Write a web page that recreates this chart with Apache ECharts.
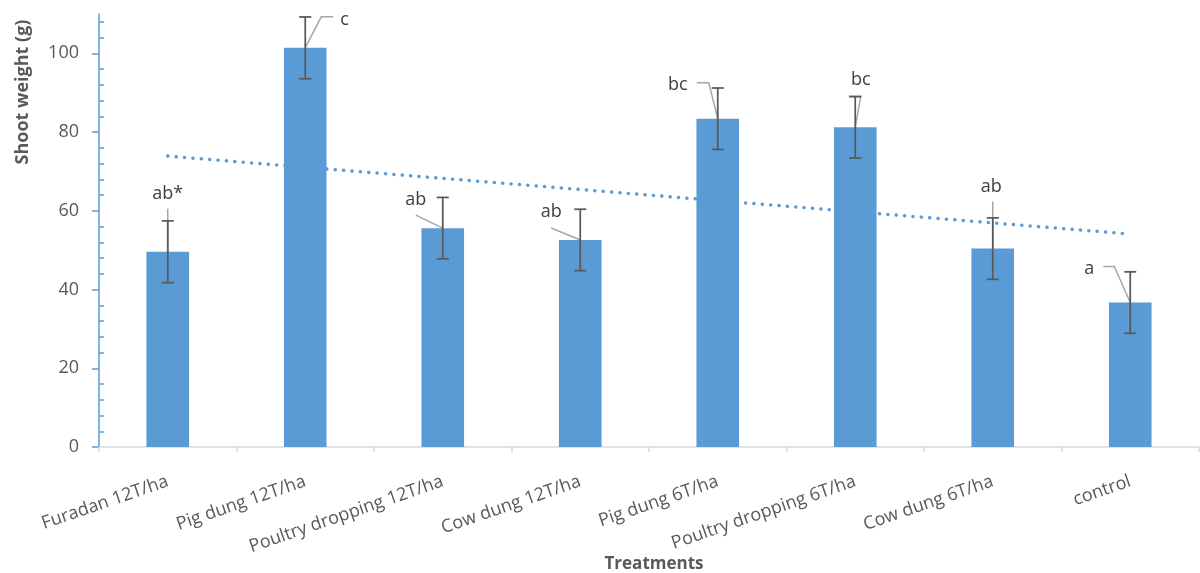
<!DOCTYPE html>
<html>
<head>
<meta charset="utf-8">
<script src="https://cdn.jsdelivr.net/npm/echarts@6/dist/echarts.min.js"></script>
<style>
  html, body { margin: 0; padding: 0; background: #fff; }
  #chart { width: 1200px; height: 573px; }
</style>
</head>
<body>
<div id="chart"></div>
<script>
// Treatments and mean shoot weight (g) with standard error
const categories = ['Furadan 12T/ha', 'Pig dung 12T/ha', 'Poultry dropping 12T/ha', 'Cow dung 12T/ha',
  'Pig dung 6T/ha', 'Poultry dropping 6T/ha', 'Cow dung 6T/ha', 'control'];
const shootWeight = [49.6, 101.4, 55.6, 52.6, 83.4, 81.2, 50.4, 36.7];
const stdError = [7.85, 7.85, 7.8, 7.8, 7.8, 7.8, 7.8, 7.8];
const groupLetters = ['ab*', 'c', 'ab', 'ab', 'bc', 'bc', 'ab', 'a'];
// Linear trend, value at the first and at the last treatment
const trendEnds = [73.9, 54.1];
const majorTicks = [0, 20, 40, 60, 80, 100];
const minorTicks = [4, 8, 12, 16, 24, 28, 32, 36, 44, 48, 52, 56, 64, 68, 72, 76, 84, 88, 92, 96, 104, 108];

// Callout placement relative to the top of each bar (pixels): leader-line bend points, text anchor, alignment
const callouts = [
  { pts: [[0, -43]], text: [0, -58], align: 'center' },
  { pts: [[16, -31], [28, -31]], text: [35, -28], align: 'left' },
  { pts: [[-27, -13]], text: [-27, -28], align: 'center' },
  { pts: [[-29, -12]], text: [-29, -28], align: 'center' },
  { pts: [[-9, -36], [-21, -36]], text: [-40, -34], align: 'center' },
  { pts: [[5.5, -31], [-6.5, -31]], text: [5.5, -47], align: 'center' },
  { pts: [[0, -47]], text: [-1.5, -62], align: 'center' },
  { pts: [[-16, -36], [-27, -36]], text: [-41, -34], align: 'center' }
];

const FONT = '"Open Sans", "Noto Sans", sans-serif';
const TEXT = '#595959';
const BLUE = '#5B9BD5';

const chart = echarts.init(document.getElementById('chart'), null, { renderer: 'canvas' });

const errData = shootWeight.map((v, i) => [i, v + stdError[i], v - stdError[i]]);
const calloutData = shootWeight.map((v, i) => [i, v]);

chart.setOption({
  animation: false,
  backgroundColor: '#fff',
  grid: { left: 99, right: 1, top: 14, bottom: 126, containLabel: false, outerBoundsMode: 'none' },
  xAxis: {
    type: 'category',
    data: categories,
    axisLine: { lineStyle: { color: '#d9d9d9', width: 1.5 } },
    axisTick: { show: true, length: 5, lineStyle: { color: '#d9d9d9', width: 1.5 } },
    axisLabel: { rotate: 19, margin: 34, fontFamily: FONT, fontSize: 18, color: TEXT, interval: 0 },
    splitLine: { show: false }
  },
  yAxis: [{
    type: 'value',
    min: 0, max: 110,
    axisLine: { show: true, lineStyle: { color: BLUE, width: 1.5 } },
    axisTick: { show: true, length: 7, customValues: majorTicks, lineStyle: { color: BLUE, width: 1.5 } },
    axisLabel: { customValues: majorTicks, margin: 20, fontFamily: FONT, fontSize: 18, color: TEXT },
    splitLine: { show: false }
  }, {
    type: 'value',
    min: 0, max: 110,
    position: 'left',
    axisLine: { show: false },
    axisTick: { show: true, inside: true, length: 5, customValues: minorTicks, lineStyle: { color: BLUE, width: 1.5 } },
    axisLabel: { show: false },
    splitLine: { show: false }
  }],
  graphic: [{
    // vertical axis title
    type: 'text',
    x: 23, y: 92,
    rotation: Math.PI / 2,
    style: {
      text: 'Shoot weight (g)',
      fontFamily: FONT, fontSize: 18, fontWeight: 'bold', fill: TEXT,
      align: 'center', verticalAlign: 'middle'
    }
  }, {
    // horizontal axis title
    type: 'text',
    x: 654, y: 564,
    style: {
      text: 'Treatments',
      fontFamily: FONT, fontSize: 17, fontWeight: 'bold', fill: TEXT,
      align: 'center', verticalAlign: 'middle'
    }
  }],
  series: [
    {
      type: 'line',
      z: 1,
      data: [[0, trendEnds[0]], [categories.length - 1, trendEnds[1]]],
      symbol: 'none',
      lineStyle: { color: BLUE, width: 3.5, type: [0.1, 8.3], cap: 'round' },
      silent: true
    },
    {
      type: 'bar',
      z: 2,
      data: shootWeight,
      barWidth: '31%',
      itemStyle: { color: BLUE },
      silent: true
    },
    {
      // leader lines and significance letters
      type: 'custom',
      z: 3,
      data: calloutData,
      renderItem: function (params, api) {
        const i = api.value(0);
        const top = api.coord([i, api.value(1)]);
        const c = callouts[i];
        const points = [top].concat(c.pts.map(p => [top[0] + p[0], top[1] + p[1]]));
        return {
          type: 'group',
          children: [
            { type: 'polyline', shape: { points: points },
              style: { stroke: '#a6a6a6', lineWidth: 1.5, fill: null } },
            { type: 'text', x: top[0] + c.text[0], y: top[1] + c.text[1],
              style: { text: groupLetters[i], fontFamily: FONT, fontSize: 18, fill: '#404040',
                align: c.align, verticalAlign: 'middle' } }
          ]
        };
      },
      silent: true
    },
    {
      // standard error bars
      type: 'custom',
      z: 4,
      data: errData,
      renderItem: function (params, api) {
        const i = api.value(0);
        const hi = api.coord([i, api.value(1)]);
        const lo = api.coord([i, api.value(2)]);
        const half = 6;
        const st = { stroke: '#595959', lineWidth: 1.75 };
        return {
          type: 'group',
          children: [
            { type: 'line', shape: { x1: hi[0], y1: hi[1], x2: lo[0], y2: lo[1] }, style: st },
            { type: 'line', shape: { x1: hi[0] - half, y1: hi[1], x2: hi[0] + half, y2: hi[1] }, style: st },
            { type: 'line', shape: { x1: lo[0] - half, y1: lo[1], x2: lo[0] + half, y2: lo[1] }, style: st }
          ]
        };
      },
      silent: true
    }
  ]
});
</script>
</body>
</html>
